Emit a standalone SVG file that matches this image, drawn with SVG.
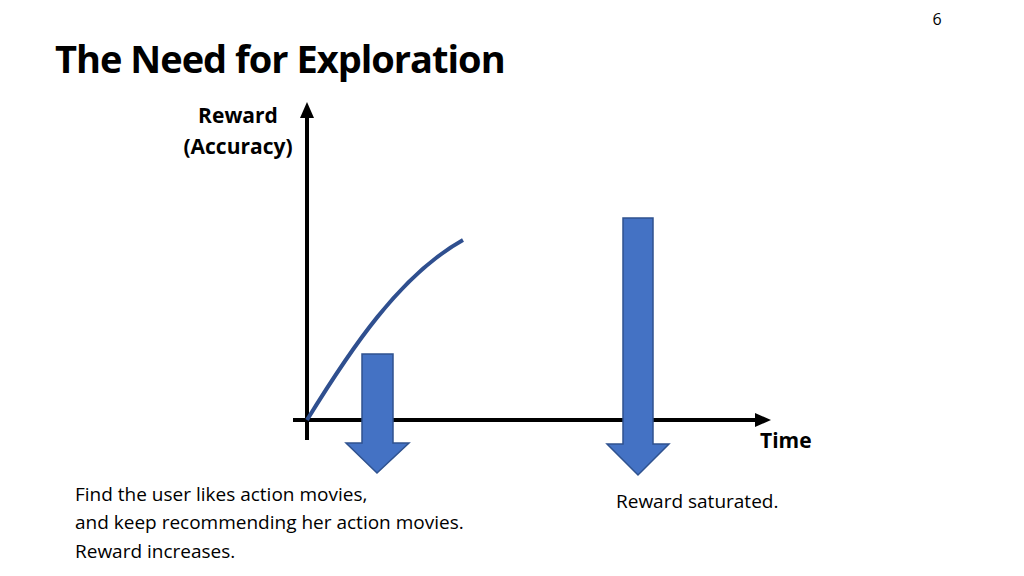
<svg xmlns="http://www.w3.org/2000/svg" width="1024" height="576" viewBox="0 0 1024 576">
<style>
text{font-family:"Open Sans","Liberation Sans",sans-serif;fill:#000}
.b{font-weight:bold}
.t{font-size:19px}
.arr{fill:#4472c4;stroke:#2f528f;stroke-width:1.5}
</style>
<rect width="1024" height="576" fill="#fff"/>
<text x="937" y="25" font-size="16" text-anchor="middle">6</text>
<text x="55" y="73" class="b" font-size="38" letter-spacing="-1">The Need for Exploration</text>
<g id="axes">
<line x1="307" y1="440" x2="307" y2="115" stroke="#000" stroke-width="4"/>
<polygon points="307,102 300,118 314,118" fill="#000"/>
<line x1="293" y1="420" x2="757" y2="420" stroke="#000" stroke-width="4"/>
<polygon points="771,420 755,413 755,427" fill="#000"/>
</g>
<g id="labels">
<text x="238" y="123" class="b" font-size="21" text-anchor="middle">Reward</text>
<text x="238" y="154" class="b" font-size="21" text-anchor="middle">(Accuracy)</text>
<text x="760" y="448" class="b" font-size="21">Time</text>
</g>
<g id="curve"><path d="M307,420 C350,350 400,275 463,240" fill="none" stroke="#2f4f8f" stroke-width="4"/></g>
<g id="arrow1"><polygon class="arr" points="362,354 393,354 393,443 409,443 377,473 346,443 362,443"/></g>
<g id="arrow2"><polygon class="arr" points="623,218 653,218 653,444 669,444 638,475 607,444 623,444"/></g>
<g id="text1">
<text x="75" y="501" class="t">Find the user likes action movies,</text>
<text x="75" y="529" class="t">and keep recommending her action movies.</text>
<text x="75" y="558" class="t">Reward increases.</text>
</g>
<g id="text2"><text x="616" y="508" class="t">Reward saturated.</text></g>
</svg>
